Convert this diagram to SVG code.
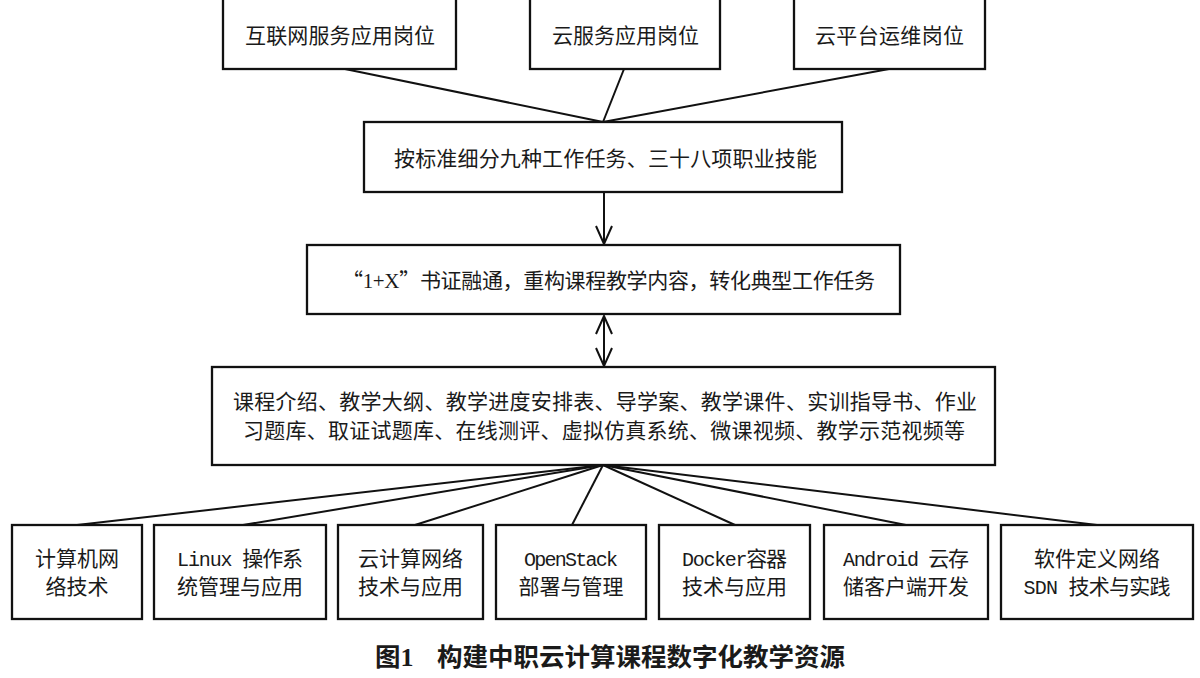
<svg xmlns="http://www.w3.org/2000/svg" width="1200" height="678" viewBox="0 0 1200 678">
<style>
.box{fill:#fff;stroke:#111;stroke-width:2.3}
.t{font-family:"Noto Sans CJK SC","Noto Sans",sans-serif;font-size:21px;fill:#1a1a1a}
.m{font-family:"Liberation Mono","DejaVu Sans Mono",monospace;font-size:20px}
.s{font-family:"Liberation Serif","Noto Sans CJK SC",serif;font-size:21px}
.ln{stroke:#111;stroke-width:2;fill:none}
.cap{font-family:"Noto Sans CJK SC",sans-serif;font-size:25.5px;font-weight:700;fill:#1a1a1a}
</style>
<defs>
<marker id="ah" markerUnits="userSpaceOnUse" viewBox="-20 -10 22 20" markerWidth="22" markerHeight="20" refX="0" refY="0" orient="auto-start-reverse">
<path d="M-18,-8 L0,0 L-18,8" fill="none" stroke="#111" stroke-width="2"/>
</marker>
</defs>
<rect width="1200" height="678" fill="#fff"/>
<g id="connectors">
<line class="ln" x1="345" y1="69" x2="603" y2="122"/>
<line class="ln" x1="624" y1="69" x2="603" y2="122"/>
<line class="ln" x1="889" y1="69" x2="603" y2="122"/>
<line class="ln" x1="604" y1="193" x2="604" y2="244" marker-end="url(#ah)"/>
<line class="ln" x1="604" y1="316" x2="604" y2="366" marker-start="url(#ah)" marker-end="url(#ah)"/>
<line class="ln" x1="603" y1="465" x2="77" y2="525"/>
<line class="ln" x1="603" y1="465" x2="243" y2="525"/>
<line class="ln" x1="603" y1="465" x2="415" y2="525"/>
<line class="ln" x1="603" y1="465" x2="572" y2="525"/>
<line class="ln" x1="603" y1="465" x2="735" y2="525"/>
<line class="ln" x1="603" y1="465" x2="906" y2="525"/>
<line class="ln" x1="603" y1="465" x2="1097" y2="525"/>
</g>
<g id="job1"><rect class="box" x="223" y="-5" width="233" height="74"/><text class="t" x="245" y="42.5" textLength="190" lengthAdjust="spacing">互联网服务应用岗位</text></g>
<g id="job2"><rect class="box" x="530" y="-5" width="190" height="74"/><text class="t" x="552" y="42.5" textLength="147" lengthAdjust="spacing">云服务应用岗位</text></g>
<g id="job3"><rect class="box" x="794" y="-5" width="191" height="74"/><text class="t" x="815" y="42.5" textLength="149" lengthAdjust="spacing">云平台运维岗位</text></g>
<g id="tasks"><rect class="box" x="364" y="122" width="478" height="70"/><text class="t" x="394" y="165.5" textLength="423" lengthAdjust="spacing">按标准细分九种工作任务、三十八项职业技能</text></g>
<g id="restructure"><rect class="box" x="307" y="245" width="593" height="69"/><text class="t" x="342" y="287.5" textLength="533" lengthAdjust="spacing">“<tspan class="s">1+X</tspan>”书证融通，重构课程教学内容，转化典型工作任务</text></g>
<g id="resources"><rect class="box" x="212" y="367" width="783" height="98"/>
<text class="t" x="233" y="409" textLength="744" lengthAdjust="spacing">课程介绍、教学大纲、教学进度安排表、导学案、教学课件、实训指导书、作业</text>
<text class="t" x="243" y="438" textLength="722" lengthAdjust="spacing">习题库、取证试题库、在线测评、虚拟仿真系统、微课视频、教学示范视频等</text></g>
<g id="c1"><rect class="box" x="12" y="525" width="130" height="94"/>
<text class="t" x="35" y="565.5" textLength="84" lengthAdjust="spacing">计算机网</text>
<text class="t" x="45.5" y="593.5" textLength="63" lengthAdjust="spacing">络技术</text></g>
<g id="c2"><rect class="box" x="154" y="525" width="172" height="94"/>
<text class="t" x="177" y="565.5" textLength="126" lengthAdjust="spacing"><tspan class="m">Linux </tspan>操作系</text>
<text class="t" x="177" y="593.5" textLength="126" lengthAdjust="spacing">统管理与应用</text></g>
<g id="c3"><rect class="box" x="338" y="525" width="145" height="94"/>
<text class="t" x="358" y="565.5" textLength="105" lengthAdjust="spacing">云计算网络</text>
<text class="t" x="358" y="593.5" textLength="105" lengthAdjust="spacing">技术与应用</text></g>
<g id="c4"><rect class="box" x="496" y="525" width="150" height="94"/>
<text class="t" x="524" y="565.5" textLength="94" lengthAdjust="spacing"><tspan class="m">OpenStack</tspan></text>
<text class="t" x="518.5" y="593.5" textLength="105" lengthAdjust="spacing">部署与管理</text></g>
<g id="c5"><rect class="box" x="659" y="525" width="151" height="94"/>
<text class="t" x="682" y="565.5" textLength="105" lengthAdjust="spacing"><tspan class="m">Docker</tspan>容器</text>
<text class="t" x="682" y="593.5" textLength="105" lengthAdjust="spacing">技术与应用</text></g>
<g id="c6"><rect class="box" x="824" y="525" width="164" height="94"/>
<text class="t" x="843" y="565.5" textLength="126" lengthAdjust="spacing"><tspan class="m">Android </tspan>云存</text>
<text class="t" x="843" y="593.5" textLength="126" lengthAdjust="spacing">储客户端开发</text></g>
<g id="c7"><rect class="box" x="1001" y="525" width="192" height="94"/>
<text class="t" x="1034" y="565.5" textLength="126" lengthAdjust="spacing">软件定义网络</text>
<text class="t" x="1023.5" y="593.5" textLength="147" lengthAdjust="spacing"><tspan class="m">SDN </tspan>技术与实践</text></g>
<g id="caption"><text class="cap" x="375" y="666">图<tspan font-family="Liberation Serif,serif" font-size="26px">1</tspan><tspan x="437" textLength="408" lengthAdjust="spacing">构建中职云计算课程数字化教学资源</tspan></text></g>
</svg>
